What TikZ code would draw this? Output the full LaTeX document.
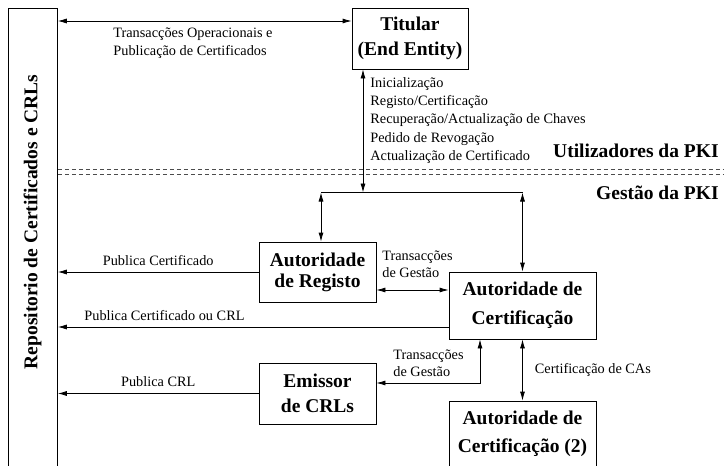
\documentclass[tikz,border=0pt]{standalone}
\usepackage{fontspec}
\setmainfont{Liberation Serif}
\usetikzlibrary{arrows.meta}

\begin{document}
\begin{tikzpicture}[x=1pt,y=-1pt,>={Latex[length=9pt,width=5pt]},line width=0.8pt,
  entity/.style={draw, align=center, inner sep=0pt, font=\fontsize{19.5}{25}\selectfont\bfseries},
  msg/.style={font=\fontsize{14.3}{18}\selectfont, inner sep=0pt, align=left},
  zone/.style={font=\fontsize{19.5}{24}\selectfont\bfseries, inner sep=0pt},
  sep/.style={draw=black!70, line width=0.7pt, dash pattern=on 4pt off 3pt}]
  \useasboundingbox (0,0) rectangle (724,466);
  \clip (0,0) rectangle (724,466);

  % repositorio (aberto em baixo)
  \node[draw, anchor=north west, minimum width=49pt, minimum height=480pt] (repo) at (8,8) {};
  \node[zone, rotate=90] (repotxt) at (32.5,222) {Repositorio de Certificados e CRLs};

  % entidades
  \node[entity, minimum width=116pt, minimum height=61pt] (tit) at (410,38.5) {Titular\\(End Entity)};
  \node[entity, minimum width=117pt, minimum height=60pt] (ra) at (317.5,272) {Autoridade\\[-4pt]de Registo};
  \node[entity, minimum width=147pt, minimum height=67pt] (ca) at (522.5,305.5) {Autoridade de\\[4pt]Certificação};
  \node[entity, minimum width=117pt, minimum height=61pt] (crl) at (317.5,393.5) {Emissor\\de CRLs};
  \node[entity, minimum width=147pt, minimum height=66pt] (ca2) at (522.5,434) {Autoridade de\\[3pt]Certificação (2)};

  % fronteira utilizadores / gestao
  \draw[sep] (repo.east |- 0,169) -- (730,169);
  \draw[sep] (repo.east |- 0,174) -- (730,174);
  \node[zone, anchor=base east] (users) at (719,157) {Utilizadores da PKI};
  \node[zone, anchor=base east] (mgmt) at (719,199) {Gestão da PKI};

  % titular
  \coordinate (topmsg) at ([yshift=17.5pt]tit.west);
  \draw[<->] (repo.east |- topmsg) -- (topmsg);
  \node[msg, anchor=west] (toplbl) at (113,43) {Transacções Operacionais e\\Publicação de Certificados};

  \coordinate (busL) at (321,192.5);
  \coordinate (busR) at (ca.north |- busL);
  \coordinate (titS) at ([xshift=-47pt]tit.south);
  \draw[<->] (titS) -- (titS |- busL);
  \node[msg, anchor=west, font=\fontsize{14.3}{18.3}\selectfont] (titlbl) at (370,120.5)
    {Inicialização\\Registo/Certificação\\Recuperação/Actualização de Chaves\\Pedido de Revogação\\Actualização de Certificado};
  \draw (busL) -- (busR);
  \draw[<->] (busL) -- (busL |- ra.north);
  \draw[<->] (busR) -- (ca.north);

  % publicacao no repositorio
  \draw[->] (ra.west) -- (repo.east |- ra.west) node[midway, above=6pt, msg] {Publica Certificado};
  \coordinate (caP) at ([yshift=-21.5pt]ca.west);
  \draw[->] (caP) -- (repo.east |- caP) node[pos=0.727, above=6pt, msg] {Publica Certificado ou CRL};
  \draw[->] (crl.west) -- (repo.east |- crl.west) node[midway, above=6pt, msg] {Publica CRL};

  % gestao
  \coordinate (raT) at ([yshift=-18pt]ra.east);
  \draw[<->] (raT) -- (raT -| ca.west);
  \node[msg, anchor=west, font=\fontsize{14.3}{17}\selectfont] (ralbl) at (382,264.5) {Transacções\\de Gestão};
  \coordinate (caS) at ([xshift=-42.5pt]ca.south);
  \coordinate (crlE) at ([yshift=10.5pt]crl.east);
  \draw[<->] (caS) |- (crlE);
  \node[msg, anchor=west, font=\fontsize{14.3}{17}\selectfont] (crllbl) at (393,363) {Transacções\\de Gestão};
  \draw[<->] (ca) -- (ca2) node[midway, right=12pt, msg] {Certificação de CAs};
\end{tikzpicture}
\end{document}
